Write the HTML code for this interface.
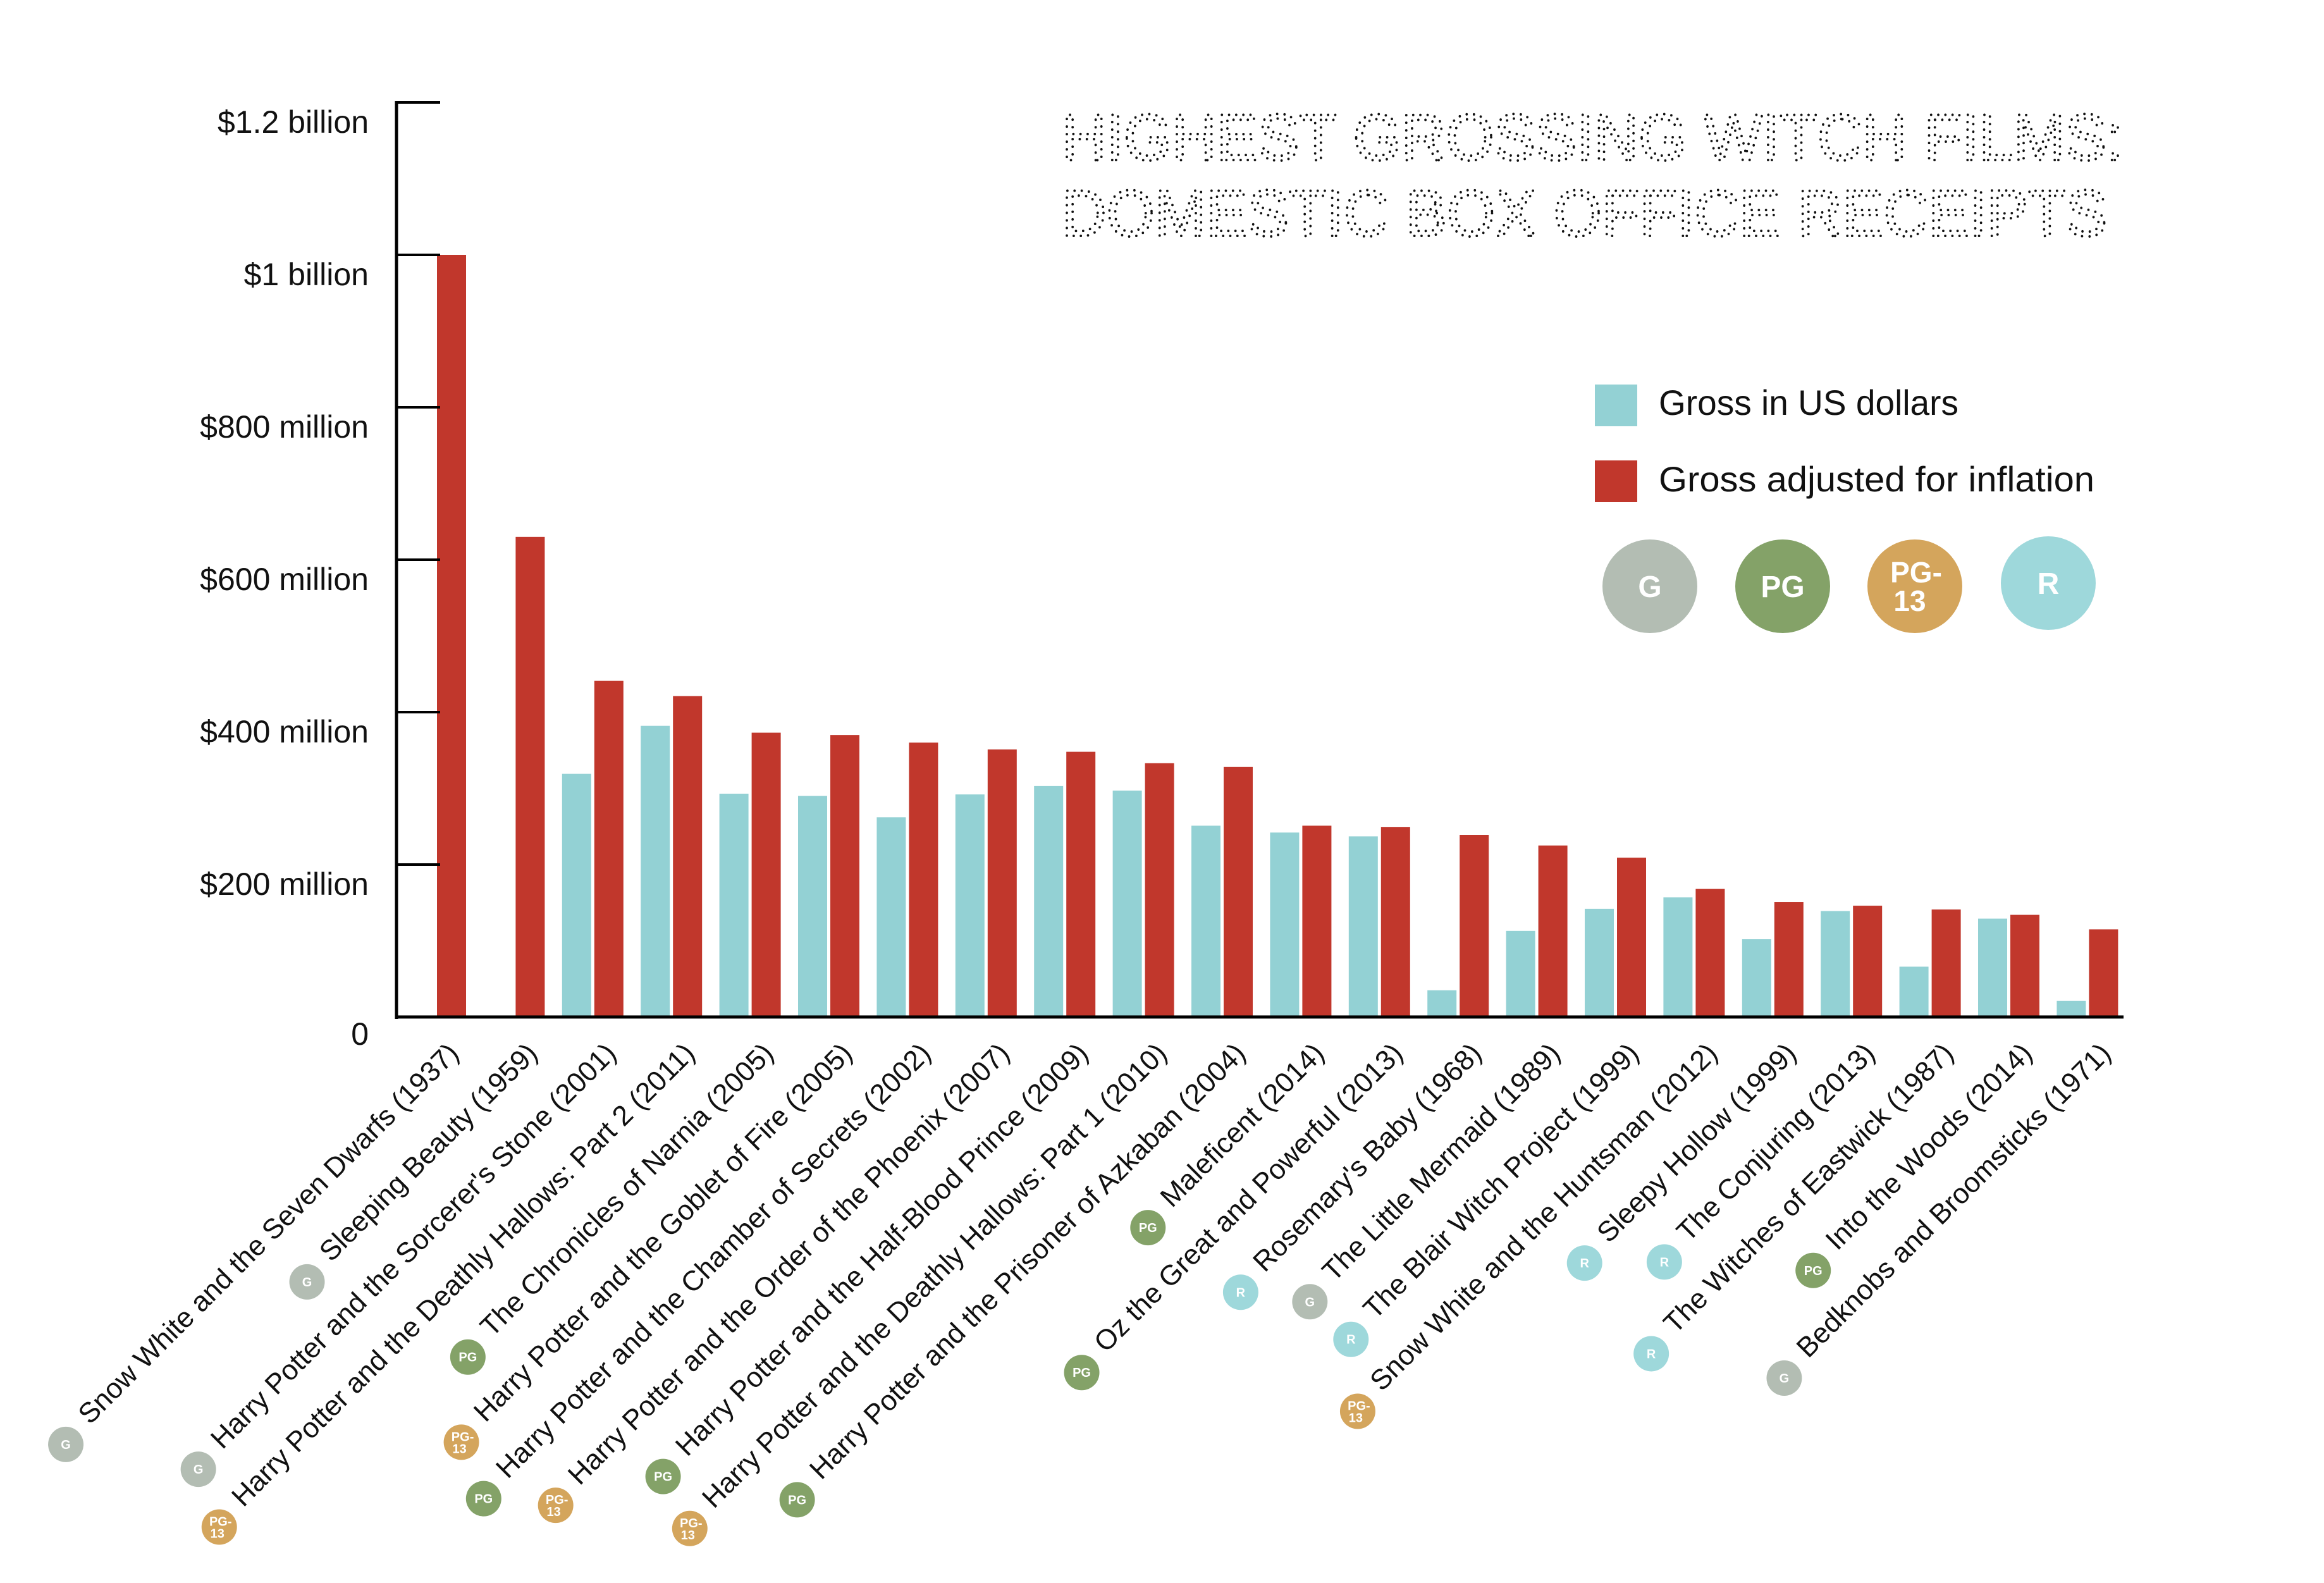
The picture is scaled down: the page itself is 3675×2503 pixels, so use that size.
<!DOCTYPE html>
<html><head><meta charset="utf-8">
<style>
html,body{margin:0;padding:0;background:#fff;}
svg{display:block;}
text{font-family:"Liberation Sans",sans-serif;}
</style></head>
<body>
<svg id="chart" width="3675" height="2503" viewBox="0 0 3675 2503" xmlns="http://www.w3.org/2000/svg">
<rect width="3675" height="2503" fill="#fff"/>
<g fill="none" stroke="#111" stroke-width="4" stroke-linecap="round" stroke-dasharray="0 12">
<text x="1679" y="253" font-size="104" font-weight="300" textLength="1679" lengthAdjust="spacingAndGlyphs">HIGHEST GROSSING WITCH FILMS:</text>
<text x="1679" y="373" font-size="104" font-weight="300" textLength="1653" lengthAdjust="spacingAndGlyphs">DOMESTIC BOX OFFICE RECEIPTS</text>
</g>
<g id="legend">
<rect x="2522" y="608" width="67" height="66" fill="#93d1d4"/>
<text x="2623" y="656" font-size="56" textLength="474" lengthAdjust="spacingAndGlyphs" fill="#111">Gross in US dollars</text>
<rect x="2522" y="728" width="67" height="66" fill="#c1372c"/>
<text x="2623" y="777" font-size="56" textLength="689" lengthAdjust="spacingAndGlyphs" fill="#111">Gross adjusted for inflation</text>
<g><ellipse cx="2609" cy="927" rx="75" ry="74" fill="#b3bdb3"/><text x="2609" y="944" font-size="48" font-weight="bold" fill="#fff" text-anchor="middle">G</text></g>
<g><ellipse cx="2819" cy="927" rx="75" ry="74" fill="#84a268"/><text x="2819" y="944" font-size="48" font-weight="bold" fill="#fff" text-anchor="middle">PG</text></g>
<g><ellipse cx="3028" cy="927" rx="75" ry="74" fill="#d4a55c"/><text x="3030" y="921" font-size="46" font-weight="bold" fill="#fff" text-anchor="middle">PG-</text><text x="3020" y="966" font-size="46" font-weight="bold" fill="#fff" text-anchor="middle">13</text></g>
<g><ellipse cx="3239" cy="922" rx="75" ry="74" fill="#9ed8db"/><text x="3239" y="939" font-size="48" font-weight="bold" fill="#fff" text-anchor="middle">R</text></g>
</g>
<g id="bars"></g>
<g id="axes"></g>
<g id="labels"></g>
</svg>
<script>
const films = ["Snow White and the Seven Dwarfs (1937)","Sleeping Beauty (1959)","Harry Potter and the Sorcerer's Stone (2001)","Harry Potter and the Deathly Hallows: Part 2 (2011)","The Chronicles of Narnia (2005)","Harry Potter and the Goblet of Fire (2005)","Harry Potter and the Chamber of Secrets (2002)","Harry Potter and the Order of the Phoenix (2007)","Harry Potter and the Half-Blood Prince (2009)","Harry Potter and the Deathly Hallows: Part 1 (2010)","Harry Potter and the Prisoner of Azkaban (2004)","Maleficent (2014)","Oz the Great and Powerful (2013)","Rosemary's Baby (1968)","The Little Mermaid (1989)","The Blair Witch Project (1999)","Snow White and the Huntsman (2012)","Sleepy Hollow (1999)","The Conjuring (2013)","The Witches of Eastwick (1987)","Into the Woods (2014)","Bedknobs and Broomsticks (1971)"];
const gross = [0,0,319,382,293,290,262,292,303,297,251,242,237,35,113,142,157,102,139,66,129,21];
const adjusted = [1000,630,441,421,373,370,360,351,348,333,328,251,249,239,225,209,168,151,146,141,134,115];
const ratings = ["G","G","G","PG-13","PG","PG-13","PG","PG-13","PG","PG-13","PG","PG","PG","R","G","R","PG-13","R","R","R","PG","G"];
const yTicks = [0,200,400,600,800,1000,1200];
const yTickLabels = ["0","$200 million","$400 million","$600 million","$800 million","$1 billion","$1.2 billion"];

const NS="http://www.w3.org/2000/svg";
const x0=627, baseY=1608, pxPer=241/200, pitch=124.4, firstRed=691, barW=46, cyanOff=51;
function yPos(v){return baseY - v*pxPer;}
function redX(i){return firstRed + i*pitch;}
function cyanX(i){return redX(i)-cyanOff;}
const ratingColors={"G":"#b3bdb3","PG":"#84a268","PG-13":"#d4a55c","R":"#9ed8db"};
function mk(tag,attrs,parent){const e=document.createElementNS(NS,tag);for(const k in attrs)e.setAttribute(k,attrs[k]);parent.appendChild(e);return e;}

const bars=document.getElementById('bars');
films.forEach((f,i)=>{
  if(gross[i]>0){
    const c=mk('rect',{x:cyanX(i),y:yPos(gross[i]),width:barW,height:baseY-yPos(gross[i]),fill:'#93d1d4'},bars);
    
    
  }
  const r=mk('rect',{x:redX(i),y:yPos(adjusted[i]),width:barW,height:baseY-yPos(adjusted[i]),fill:'#c1372c'},bars);
  
  
});

const axes=document.getElementById('axes');
const yl=mk('line',{x1:x0,y1:yPos(1200)-2,x2:x0,y2:baseY+3,stroke:'#000','stroke-width':5},axes);


const xl=mk('line',{x1:x0,y1:baseY,x2:3358,y2:baseY,stroke:'#000','stroke-width':5},axes);


yTicks.forEach((v,k)=>{
  if(v>0){
    const t=mk('line',{x1:x0,y1:yPos(v),x2:x0+69,y2:yPos(v),stroke:'#000','stroke-width':4},axes);
    
    
  }
  const lb=mk('text',{x:583,y:yPos(v)+(v===0?44:48),'font-size':50,'text-anchor':'end',fill:'#111'},axes);
  lb.textContent=yTickLabels[k];
  
  
});

const labels=document.getElementById('labels');
const d=Math.SQRT1_2;
films.forEach((f,i)=>{
  const ax=redX(i)+barW/2+14, ay=1668;
  const t=mk('text',{x:ax,y:ay,'font-size':44.5,'text-anchor':'end',fill:'#111',transform:`rotate(-45 ${ax} ${ay})`},labels);
  t.textContent=f;
  
  
  let len=t.getComputedTextLength();
  if(!len) len=f.length*21;
  const sx=ax-len*d, sy=ay+len*d;
  const cx=sx-38, cy=sy+30;
  const g=mk('g',{},labels);
  
  
  mk('circle',{cx:cx,cy:cy,r:28,fill:ratingColors[ratings[i]]},g);
  if(ratings[i]==='PG-13'){
    const a=mk('text',{x:cx+2,y:cy-2,'font-size':20,'font-weight':'bold',fill:'#fff','text-anchor':'middle'},g);a.textContent='PG-';
    const b=mk('text',{x:cx-3,y:cy+17,'font-size':20,'font-weight':'bold',fill:'#fff','text-anchor':'middle'},g);b.textContent='13';
  } else {
    const a=mk('text',{x:cx,y:cy+7,'font-size':20,'font-weight':'bold',fill:'#fff','text-anchor':'middle'},g);a.textContent=ratings[i];
  }
});
</script>
</body></html>
